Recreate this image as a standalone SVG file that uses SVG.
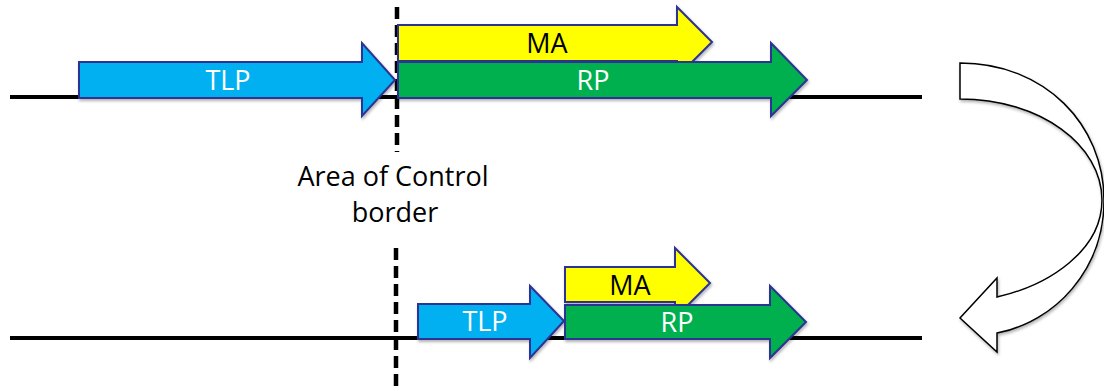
<svg xmlns="http://www.w3.org/2000/svg" width="1104" height="391" viewBox="0 0 1104 391">
<style>
.base{stroke:#000;stroke-width:4;fill:none}
.dash{stroke:#000;stroke-width:4.5;stroke-dasharray:12 6;fill:none}
.arr{stroke:#2E3192;stroke-width:2;stroke-linejoin:miter;filter:url(#sh)}
.tlp{fill:#00B0F0}.ma{fill:#FFFF00}.rp{fill:#00B050}
.lbl{font-family:"Open Sans","Liberation Sans",sans-serif;font-size:27px;text-anchor:middle}
.w{fill:#fff}.k{fill:#000}
</style>
<defs>
<filter id="sh" x="-10%" y="-20%" width="120%" height="150%">
<feDropShadow dx="1" dy="2" stdDeviation="1.5" flood-color="#000" flood-opacity="0.3"/>
</filter>
</defs>
<rect width="1104" height="391" fill="#fff"/>
<g id="connectors">
<line class="base" x1="10" y1="97" x2="922" y2="97"/>
<line class="base" x1="10" y1="338" x2="922" y2="338"/>
<line class="dash" x1="397" y1="7" x2="397" y2="152"/>
<line class="dash" x1="396" y1="248" x2="396" y2="391"/>
<path d="M960,63 C1045,63 1104,125 1104,200 C1104,270 1055,322 997,333 L997,352 L960,318 L997,278 L997,297 C1050,285 1102,250 1102,200 C1102,145 1040,99 960,99 Z" fill="#fff" stroke="#000" stroke-width="1.5" filter="url(#sh)"/>
</g>
<g id="tlp-top">
<path class="arr tlp" d="M79,62 L362,62 L362,43 L395,80 L362,116 L362,98 L79,98 Z"/>
<text class="lbl w" x="228" y="90">TLP</text>
</g>
<g id="ma-top">
<path class="arr ma" d="M398,25 L677,25 L677,7 L712,42 L677,77 L677,61 L398,61 Z"/>
<text class="lbl k" x="547" y="53">MA</text>
</g>
<g id="rp-top">
<path class="arr rp" d="M398,62 L771,62 L771,43 L807,80 L771,116 L771,98 L398,98 Z"/>
<text class="lbl w" x="593" y="90">RP</text>
</g>
<g id="border-label">
<text class="lbl k" x="393" y="186">Area of Control</text>
<text class="lbl k" x="395" y="222">border</text>
</g>
<g id="tlp-bottom">
<path class="arr tlp" d="M418,304 L530,304 L530,286 L564,321 L530,358 L530,339 L418,339 Z"/>
<text class="lbl w" x="485" y="331">TLP</text>
</g>
<g id="ma-bottom">
<path class="arr ma" d="M565,267 L675,267 L675,248 L710,283 L675,318 L675,302 L565,302 Z"/>
<text class="lbl k" x="630" y="295">MA</text>
</g>
<g id="rp-bottom">
<path class="arr rp" d="M565,305 L770,305 L770,286 L806,322 L770,358 L770,339 L565,339 Z"/>
<text class="lbl w" x="677" y="332">RP</text>
</g>
</svg>
